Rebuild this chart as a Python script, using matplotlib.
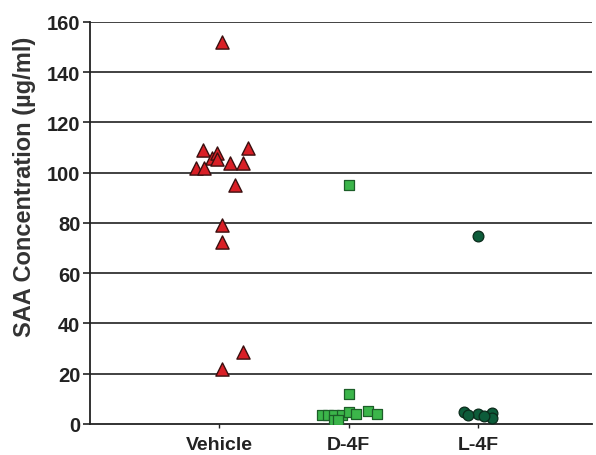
import matplotlib
matplotlib.use("Agg")
import matplotlib.pyplot as plt

categories = ["Vehicle", "D-4F", "L-4F"]

vehicle_dx = [0.02, -0.13, 0.22, -0.06, -0.02, -0.02, 0.08, 0.18, -0.18, -0.12, 0.12, 0.02, 0.02, 0.18, 0.02]
vehicle_y = [152, 109, 110, 106, 108, 105.5, 104, 104, 102, 102, 95, 79, 72.5, 28.7, 22]

d4f_dx = [0.0, 0.0, -0.21, -0.16, -0.11, -0.05, 0.0, 0.06, 0.15, 0.22, -0.11, -0.08]
d4f_y = [95, 12, 3.5, 3.5, 3.5, 3.5, 4.8, 3.8, 5, 4, 1.5, 1.5]

l4f_dx = [0.0, -0.11, 0.0, 0.11, 0.11, -0.08, 0.05]
l4f_y = [75, 4.8, 4, 4.3, 2.2, 3.5, 3]

yticks = [0, 20, 40, 60, 80, 100, 120, 140, 160]

FAM = ['Liberation Sans', 'DejaVu Sans']
plt.rcParams['font.family'] = FAM

fig = plt.figure(figsize=(5.96, 4.56), dpi=100)
ax = fig.add_axes([0.151, 0.068, 0.842, 0.8816])

for y in yticks[1:]:
    ax.axhline(y, color="#333333", lw=1.3, zorder=1)

ax.scatter([1 + d for d in vehicle_dx], vehicle_y, marker="^", s=90,
           color="#d91f26", edgecolor="#3a1010", linewidth=1.0, zorder=3)
ax.scatter([2 + d for d in d4f_dx], d4f_y, marker="s", s=45,
           color="#3bb54a", edgecolor="#1c5e28", linewidth=0.9, zorder=3)
ax.scatter([3 + d for d in l4f_dx], l4f_y, marker="o", s=60,
           color="#0d5c3a", edgecolor="#0a2a1a", linewidth=0.9, zorder=3)

ax.set_xlim(0, 3.88)
ax.set_ylim(0, 160)
ax.set_yticks(yticks)
ax.set_yticklabels([str(v) for v in yticks], fontsize=14.5, fontweight="bold",
                   family=FAM, color="#222222")
ax.set_xticks([1, 2, 3])
ax.set_xticklabels(categories, fontsize=14, fontweight="bold",
                   family=FAM, color="#222222")
ax.set_ylabel("SAA Concentration (µg/ml)", fontsize=17, fontweight="bold",
              family=FAM, color="#333333")
ax.yaxis.set_label_coords(-0.107, 0.592)

for s in ["top", "right"]:
    ax.spines[s].set_visible(False)
ax.spines["left"].set_linewidth(1.3)
ax.spines["bottom"].set_linewidth(1.3)
ax.spines["left"].set_color("#222222")
ax.spines["bottom"].set_color("#222222")
ax.tick_params(axis="y", direction="out", length=5, width=1.2, colors="#222222", pad=2)
ax.tick_params(axis="x", direction="out", length=3, width=1.0, colors="#222222", pad=6)

fig.savefig("out.png", dpi=100)
